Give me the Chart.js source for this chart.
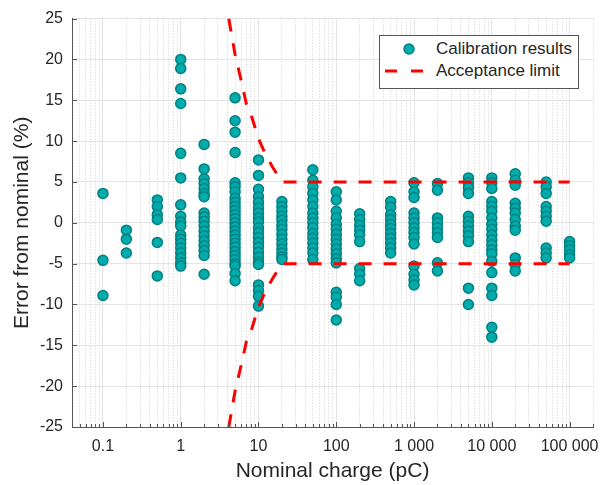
<!DOCTYPE html>
<html>
<head>
<meta charset="utf-8">
<script src="https://cdn.jsdelivr.net/npm/chart.js@4"></script>
<style>
  body { margin: 0; background: #fff; }
  #wrap { position: relative; width: 605px; height: 485px; }
  #legend {
    position: absolute; left: 379px; top: 35px; width: 200px; height: 54px;
    box-sizing: border-box; border: 1px solid #555; background: #fff;
    font: 17px "Liberation Sans", Arial, sans-serif; color: #262626;
  }
  #legend svg { position: absolute; left: 0; }
  #legend span { position: absolute; left: 56px; white-space: nowrap; line-height: 20px; }
</style>
</head>
<body>
<div id="wrap">
  <canvas id="chart"></canvas>
  <div id="legend">
    <svg width="50" height="20" style="top:3px"><circle cx="29" cy="10" r="5" fill="#00abab" stroke="#008080" stroke-width="1.5"/></svg>
    <span style="top:3px">Calibration results</span>
    <svg width="50" height="20" style="top:25px"><line x1="5" y1="10" x2="44" y2="10" stroke="#ff0000" stroke-width="3" stroke-dasharray="12 14"/></svg>
    <span style="top:25px">Acceptance limit</span>
  </div>
</div>
<script>
// nominal charges (pC) and measured errors (%) at each charge
const charges = [0.1, 0.2, 0.5, 1, 2, 5, 10, 20, 50, 100, 200, 500, 1000, 2000, 5000, 10000, 20000, 50000, 100000];
const errors = [
  [3.6, -4.6, -8.9],
  [-0.9, -2.0, -3.7],
  [2.8, 2.0, 1.0, 0.4, -2.4, -6.5],
  [20.0, 18.9, 16.4, 14.6, 8.5, 5.5, 2.2, 0.8, 0.1, -0.4, -1.5, -2.0, -2.5, -3.1, -3.7, -4.3, -4.9, -5.3],
  [9.6, 6.6, 5.4, 4.8, 4.2, 3.6, 3.2, 1.2, 0.7, 0.2, -0.4, -1.0, -1.6, -2.2, -2.8, -3.4, -4.0, -6.3],
  [15.3, 12.5, 11.1, 8.6, 4.9, 4.4, 3.8, 3.0, 2.5, 2.0, 1.5, 1.0, 0.5, 0.0, -0.5, -1.0, -1.5, -2.0, -2.5, -3.0, -3.5, -4.0, -4.5, -5.0, -5.3, -6.2, -7.1],
  [7.7, 5.8, 4.1, 3.2, 2.5, 1.8, 1.2, 0.6, 0.1, -0.6, -1.2, -1.8, -2.4, -3.0, -3.6, -4.2, -4.8, -5.1, -7.6, -8.3, -9.0, -10.2],
  [2.6, 2.0, 1.4, 0.8, 0.3, -0.3, -0.8, -1.4, -2.0, -2.6, -3.2, -3.7, -4.2, -4.5],
  [6.5, 5.2, 4.4, 3.6, 2.8, 2.0, 1.2, 0.6, 0.0, -0.6, -1.3, -1.9, -2.5, -3.1, -3.7, -4.5],
  [3.8, 2.8, 1.4, 0.6, -0.2, -0.8, -1.4, -2.0, -2.6, -3.2, -3.8, -4.4, -4.9, -8.5, -9.1, -10.0, -11.9],
  [1.1, 0.4, -0.3, -0.9, -1.5, -2.3, -5.6, -6.3, -7.1],
  [2.6, 1.9, 1.0, 0.4, -0.2, -0.7, -1.3, -1.9, -2.5, -3.1, -3.7],
  [4.9, 3.8, 3.1, 1.2, 0.6, 0.0, -0.6, -1.2, -1.8, -2.6, -5.3, -6.3, -7.0, -7.6],
  [4.8, 4.0, 0.6, 0.0, -0.6, -1.2, -1.8, -4.9, -5.9],
  [5.5, 4.9, 4.3, 3.6, 0.8, 0.2, -0.4, -1.0, -1.6, -2.3, -8.0, -10.0],
  [5.5, 4.9, 4.2, 2.6, 2.0, 1.4, 0.6, -0.2, -0.8, -1.5, -2.1, -2.7, -3.3, -3.8, -4.7, -6.1, -8.0, -8.9, -12.8, -14.0],
  [6.0, 5.2, 4.6, 2.4, 1.8, 1.2, 0.4, -0.4, -0.9, -4.3, -5.1, -5.9],
  [5.0, 4.4, 3.6, 2.0, 1.4, 0.8, 0.2, -3.1, -3.7, -4.3],
  [-2.3, -2.8, -3.3, -3.9, -4.3]
];

// acceptance limit
const limitCharge = [4.15, 5, 6, 7, 8, 9, 10, 12, 15, 20, 100000];
const limitUpper = [25, 20.6, 17.4, 14.5, 13.3, 11.7, 10.3, 8.6, 6.9, 5, 5];
const limitLower = [-25, -20.6, -17.4, -14.5, -13.3, -11.7, -10.3, -8.6, -6.9, -5, -5];

// x axis labels
const xTickValues = [0.1, 1, 10, 100, 1000, 10000, 100000];
const xTickLabels = ["0.1", "1", "10", "100", "1 000", "10 000", "100 000"];

const isDecade = v => Math.abs(Math.log10(v) - Math.round(Math.log10(v))) < 1e-9;

const points = [];
charges.forEach((q, i) => errors[i].forEach(e => points.push({ x: q, y: e })));

const upperLine = limitCharge.map((q, i) => ({ x: q, y: limitUpper[i] }));
const lowerLine = limitCharge.map((q, i) => ({ x: q, y: limitLower[i] }));

Chart.defaults.font.family = '"Liberation Sans", Arial, sans-serif';
Chart.defaults.color = "#262626";

// small tick marks drawn inward, like the original
const innerTicks = {
  id: "innerTicks",
  afterDraw(chart) {
    const { ctx, chartArea, scales } = chart;
    ctx.save();
    ctx.strokeStyle = "#555";
    ctx.lineWidth = 1;
    ctx.beginPath();
    scales.x.ticks.forEach(t => {
      const px = Math.round(scales.x.getPixelForValue(t.value)) + 0.5;
      const len = isDecade(t.value) ? 5 : 3;
      ctx.moveTo(px, chartArea.bottom);
      ctx.lineTo(px, chartArea.bottom - len);
    });
    scales.y.ticks.forEach(t => {
      const py = Math.round(scales.y.getPixelForValue(t.value)) + 0.5;
      ctx.moveTo(chartArea.left, py);
      ctx.lineTo(chartArea.left + 5, py);
    });
    ctx.stroke();
    ctx.restore();
  }
};

new Chart(document.getElementById("chart"), {
  type: "scatter",
  data: {
    datasets: [
      {
        label: "Acceptance limit",
        data: upperLine,
        showLine: true,
        borderColor: "#ff0000",
        borderWidth: 3,
        borderDash: [13, 12],
        pointRadius: 0,
        order: 1
      },
      {
        label: "Acceptance limit (lower)",
        data: lowerLine,
        showLine: true,
        borderColor: "#ff0000",
        borderWidth: 3,
        borderDash: [13, 12],
        pointRadius: 0,
        order: 1
      },
      {
        label: "Calibration results",
        data: points,
        backgroundColor: "#00abab",
        borderColor: "#008080",
        borderWidth: 1.5,
        pointRadius: 5,
        order: 2
      }
    ]
  },
  options: {
    responsive: true,
    maintainAspectRatio: false,
    animation: false,
    layout: { padding: { top: 18, right: 12, left: 0, bottom: 0 } },
    plugins: {
      legend: { display: false },
      tooltip: { enabled: false }
    },
    scales: {
      x: {
        type: "logarithmic",
        min: 0.04,
        max: 200000,
        afterBuildTicks: s => {
          // keep only 1..9 multiples of each decade
          s.ticks = s.ticks.filter(t => {
            const m = t.value / Math.pow(10, Math.floor(Math.log10(t.value) + 1e-9));
            return Math.abs(m - Math.round(m)) < 1e-6;
          });
        },
        afterFit: s => { s.height = 58; },
        ticks: {
          autoSkip: false,
          maxRotation: 0,
          padding: 10,
          font: { size: 16 },
          callback: v => {
            const i = xTickValues.findIndex(t => Math.abs(t - v) / t < 1e-6);
            return i >= 0 ? xTickLabels[i] : "";
          }
        },
        grid: {
          drawTicks: false,
          color: c => c.tick && isDecade(c.tick.value) ? "#e4e4e4" : "#cfcfcf"
        },
        border: {
          color: "#555",
          dash: c => (c.tick && !isDecade(c.tick.value) ? [1, 2] : [])
        },
        title: {
          display: true,
          text: "Nominal charge (pC)",
          font: { size: 21 },
          padding: { top: 0, bottom: 1 }
        }
      },
      y: {
        min: -25,
        max: 25,
        afterFit: s => { s.width = 72; },
        ticks: {
          stepSize: 5,
          padding: 9,
          font: { size: 16 }
        },
        grid: {
          drawTicks: false,
          color: "#e4e4e4"
        },
        border: { color: "#555" },
        title: {
          display: true,
          text: "Error from nominal (%)",
          font: { size: 21 },
          padding: { top: 10, bottom: 0 }
        }
      }
    }
  },
  plugins: [innerTicks]
});
</script>
</body>
</html>
